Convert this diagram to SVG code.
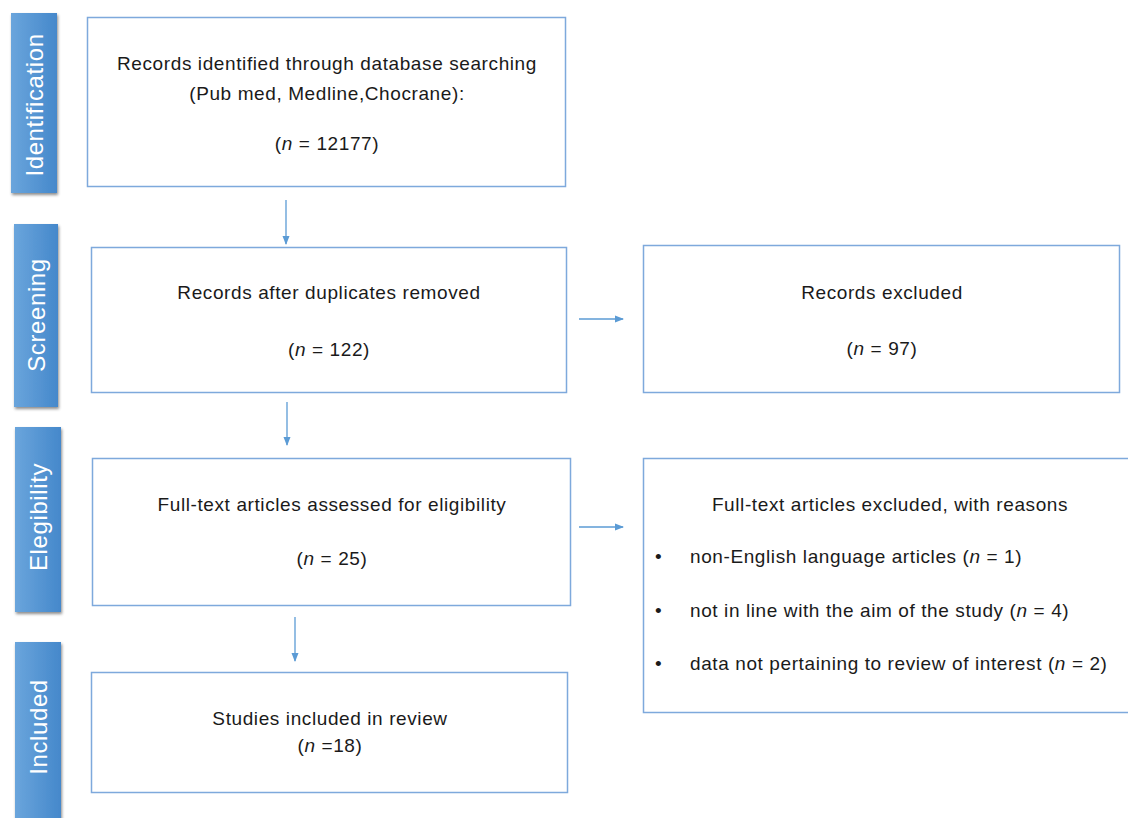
<svg xmlns="http://www.w3.org/2000/svg" width="1128" height="818" viewBox="0 0 1128 818">
<style>
.box{fill:#fff;stroke:#7ea9dc;stroke-width:1.5}
.bar{fill:url(#g)}
.bt{font-family:"Liberation Sans",Arial,sans-serif;font-size:24px;letter-spacing:0.6px;fill:#fff;text-anchor:middle}
.t{font-family:"Liberation Sans",Arial,sans-serif;font-size:19px;letter-spacing:0.6px;fill:#1a1a1a;text-anchor:middle}
.l{font-family:"Liberation Sans",Arial,sans-serif;font-size:19px;letter-spacing:0.6px;fill:#1a1a1a}
.c{stroke:#5b9bd5;stroke-width:1.3;fill:none;marker-end:url(#ah)}
</style>
<defs>
<linearGradient id="g" x1="0" y1="0" x2="1" y2="0">
<stop offset="0" stop-color="#6aa5dc"/>
<stop offset="1" stop-color="#4588cb"/>
</linearGradient>
<filter id="sh" x="-30%" y="-10%" width="160%" height="120%">
<feDropShadow dx="1" dy="2" stdDeviation="1.5" flood-color="#000" flood-opacity="0.45"/>
</filter>
<marker id="ah" markerWidth="9" markerHeight="9" refX="8" refY="4.5" orient="auto" markerUnits="userSpaceOnUse">
<path d="M0,1 L9,4.5 L0,8 Z" fill="#5b9bd5"/>
</marker>
</defs>
<rect width="1128" height="818" fill="#fff"/>
<g id="bar-identification">
<rect class="bar" x="11" y="13" width="46" height="180" filter="url(#sh)"/>
<text class="bt" transform="translate(43,105) rotate(-90)">Identification</text>
</g>
<g id="bar-screening">
<rect class="bar" x="14" y="224" width="44" height="183" filter="url(#sh)"/>
<text class="bt" transform="translate(45,315) rotate(-90)">Screening</text>
</g>
<g id="bar-eligibility">
<rect class="bar" x="15" y="427" width="46" height="185" filter="url(#sh)"/>
<text class="bt" transform="translate(47,517) rotate(-90)">Elegibility</text>
</g>
<g id="bar-included">
<rect class="bar" x="15" y="642" width="46" height="190" filter="url(#sh)"/>
<text class="bt" transform="translate(47,727) rotate(-90)">Included</text>
</g>
<g id="identified">
<rect class="box" x="87.5" y="17.5" width="478" height="169"/>
<text class="t" x="327" y="70">Records identified through database searching</text>
<text class="t" x="327" y="100">(Pub med, Medline,Chocrane):</text>
<text class="t" x="327" y="150">(<tspan font-style="italic">n</tspan> = 12177)</text>
</g>
<g id="screened">
<rect class="box" x="91.5" y="247.5" width="475" height="145"/>
<text class="t" x="329" y="299">Records after duplicates removed</text>
<text class="t" x="329" y="356">(<tspan font-style="italic">n</tspan> = 122)</text>
</g>
<g id="excluded">
<rect class="box" x="643.5" y="245.5" width="476" height="147"/>
<text class="t" x="882" y="299">Records excluded</text>
<text class="t" x="882" y="355">(<tspan font-style="italic">n</tspan> = 97)</text>
</g>
<g id="eligibility">
<rect class="box" x="92.5" y="458.5" width="478" height="147"/>
<text class="t" x="332" y="511">Full-text articles assessed for eligibility</text>
<text class="t" x="332" y="565">(<tspan font-style="italic">n</tspan> = 25)</text>
</g>
<g id="fulltext-excluded">
<rect class="box" x="643.5" y="458.5" width="490" height="254"/>
<text class="t" x="890" y="511">Full-text articles excluded, with reasons</text>
<text class="l" x="655" y="563">•</text>
<text class="l" x="690" y="563">non-English language articles (<tspan font-style="italic">n</tspan> = 1)</text>
<text class="l" x="655" y="617">•</text>
<text class="l" x="690" y="617">not in line with the aim of the study (<tspan font-style="italic">n</tspan> = 4)</text>
<text class="l" x="655" y="670">•</text>
<text class="l" x="690" y="670">data not pertaining to review of interest (<tspan font-style="italic">n</tspan> = 2)</text>
</g>
<g id="included">
<rect class="box" x="91.5" y="672.5" width="476" height="120"/>
<text class="t" x="330" y="725">Studies included in review</text>
<text class="t" x="330" y="752">(<tspan font-style="italic">n</tspan> =18)</text>
</g>
<g id="connectors">
<line class="c" x1="286" y1="200" x2="286" y2="244"/>
<line class="c" x1="287" y1="402" x2="287" y2="445"/>
<line class="c" x1="295" y1="617" x2="295" y2="661"/>
<line class="c" x1="579" y1="319" x2="623" y2="319"/>
<line class="c" x1="579" y1="527" x2="623" y2="527"/>
</g>
</svg>
